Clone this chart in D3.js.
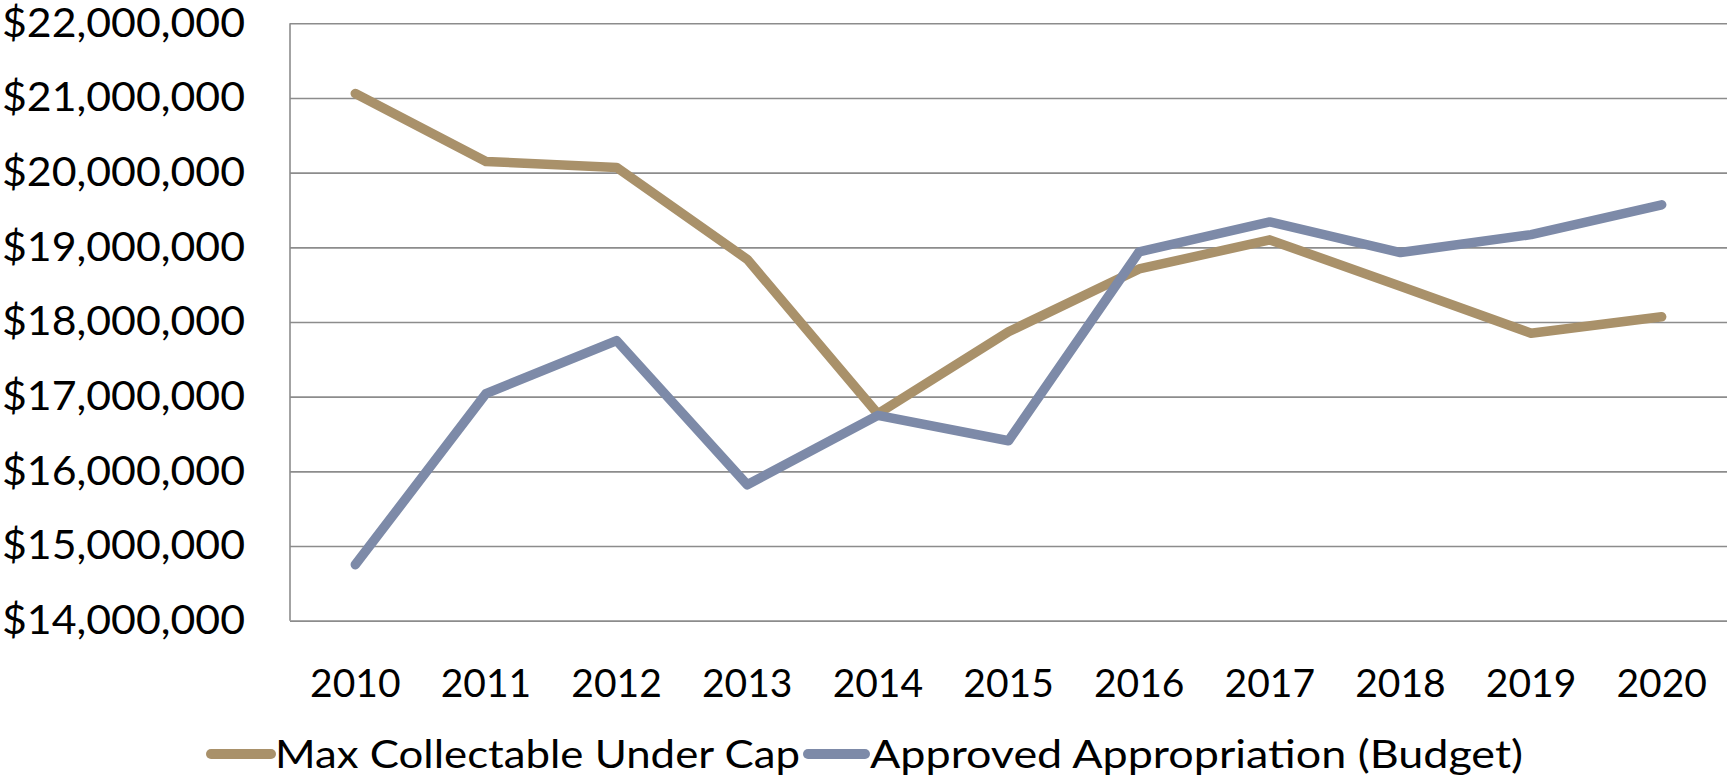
<!DOCTYPE html>
<html>
<head>
<meta charset="utf-8">
<script src="https://cdn.jsdelivr.net/npm/d3@7"></script>
<style>
  html, body { margin: 0; padding: 0; background: #ffffff; }
  svg { display: block; }
  text { font-family: Lato, "Open Sans", sans-serif; fill: #000; }
</style>
</head>
<body>
<svg id="chart" width="1727" height="778"></svg>
<script>
const categories = ["2010","2011","2012","2013","2014","2015","2016","2017","2018","2019","2020"];
const maxCollectable = [21060000, 20150000, 20070000, 18840000, 16770000, 17870000, 18710000, 19100000, 18480000, 17850000, 18070000];
const approvedBudget = [14750000, 17040000, 17750000, 15820000, 16750000, 16410000, 18940000, 19340000, 18930000, 19170000, 19570000];
const yTicks = [14000000, 15000000, 16000000, 17000000, 18000000, 19000000, 20000000, 21000000, 22000000];
const seriesNames = ["Max Collectable Under Cap", "Approved Appropriation (Budget)"];
const seriesColors = ["#A9916A", "#7D8AA8"];

const W = 1727, H = 778;
const plot = { left: 290, right: 1727, top: 23.3, bottom: 620.7 };
const svg = d3.select("#chart");

const x = d3.scaleBand().domain(categories).range([plot.left, plot.right]).padding(0);
const y = d3.scaleLinear().domain([14000000, 22000000]).range([plot.bottom, plot.top]);
const fmt = d3.format("$,");

// gridlines + y labels
const yAxis = d3.axisLeft(y).tickValues(yTicks).tickSize(-(plot.right - plot.left)).tickFormat(fmt).tickPadding(45);
const gY = svg.append("g").attr("transform", `translate(${plot.left},0)`).call(yAxis);
gY.select(".domain").remove();
gY.selectAll(".tick line").attr("stroke", "#8C8C8C").attr("stroke-width", 1.6);
gY.selectAll(".tick text").attr("font-size", 40).attr("dy", "0.32em").attr("fill", "#000")
  .attr("textLength", 243).attr("lengthAdjust", "spacingAndGlyphs")
  .style("font-family", "Lato, sans-serif");

// left axis line
svg.append("line").attr("x1", plot.left).attr("x2", plot.left).attr("y1", plot.top).attr("y2", plot.bottom)
  .attr("stroke", "#8C8C8C").attr("stroke-width", 1.6);

// x axis labels
const xAxis = d3.axisBottom(x).tickSize(0).tickPadding(0);
const gX = svg.append("g").attr("transform", `translate(0,${plot.bottom})`).call(xAxis);
gX.select(".domain").attr("stroke", "#8C8C8C").attr("stroke-width", 1.6);
gX.selectAll(".tick text").attr("font-size", 39).attr("y", 76).attr("dy", 0).attr("fill", "#000")
  .style("font-family", "Lato, sans-serif");

// lines
const line = d3.line().x((d, i) => x(categories[i]) + x.bandwidth() / 2).y(d => y(d));
[maxCollectable, approvedBudget].forEach((vals, k) => {
  svg.append("path").datum(vals).attr("d", line).attr("fill", "none")
    .attr("stroke", seriesColors[k]).attr("stroke-width", 9.5)
    .attr("stroke-linecap", "round").attr("stroke-linejoin", "round");
});

// legend
const legendItems = [
  { x1: 211, x2: 271, tx: 275, tw: 525 },
  { x1: 808, x2: 865, tx: 870, tw: 653 }
];
const lg = svg.append("g");
legendItems.forEach((it, k) => {
  lg.append("line").attr("x1", it.x1).attr("x2", it.x2).attr("y1", 754).attr("y2", 754)
    .attr("stroke", seriesColors[k]).attr("stroke-width", 10).attr("stroke-linecap", "round");
  lg.append("text").attr("x", it.tx).attr("y", 768).attr("font-size", 39)
    .attr("textLength", it.tw).attr("lengthAdjust", "spacingAndGlyphs")
    .text(seriesNames[k]);
});
</script>
</body>
</html>
